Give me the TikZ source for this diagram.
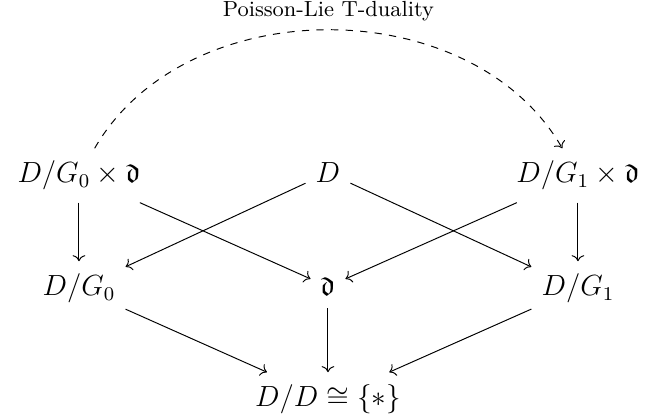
\documentclass[tikz,border=0pt]{standalone}
\usepackage{amsmath,amssymb}
\usetikzlibrary{positioning,arrows.meta}
\tikzset{
  obj/.style={font=\large,inner xsep=4pt,inner ysep=5pt,anchor=base},
  arr/.style={->},
  dual/.style={->,dashed},
  lbl/.style={font=\small,inner sep=3.5pt},
}
\begin{document}
\begin{tikzpicture}
  \useasboundingbox (0,0) rectangle (9.35,6.06);
  % top row
  \node[obj] (t0) at (1.143,3.415) {$D/G_0\times\mathfrak{d}$};
  \node[obj] (dd) at (4.747,3.415) {$D$};
  \node[obj] (t1) at (8.365,3.415) {$D/G_1\times\mathfrak{d}$};
  % middle row
  \node[obj] (q0) at (1.143,1.78) {$D/G_0$};
  \node[obj] (fd) at (4.747,1.78) {$\mathfrak{d}$};
  \node[obj] (q1) at (8.365,1.78) {$D/G_1$};
  % bottom
  \node[obj] (pt) at (4.747,0.174) {$D/D\cong\{*\}$};

  \draw[arr] (t0) -- (q0);
  \draw[arr] (t0) -- (fd);
  \draw[arr] (dd) -- (q0);
  \draw[arr] (dd) -- (q1);
  \draw[arr] (t1) -- (fd);
  \draw[arr] (t1) -- (q1);
  \draw[arr] (q0) -- (pt);
  \draw[arr] (fd) -- (pt);
  \draw[arr] (q1) -- (pt);
  \draw[dual] (t0) to[bend left=60] node[lbl,above]{Poisson-Lie T-duality} (t1);
\end{tikzpicture}
\end{document}
